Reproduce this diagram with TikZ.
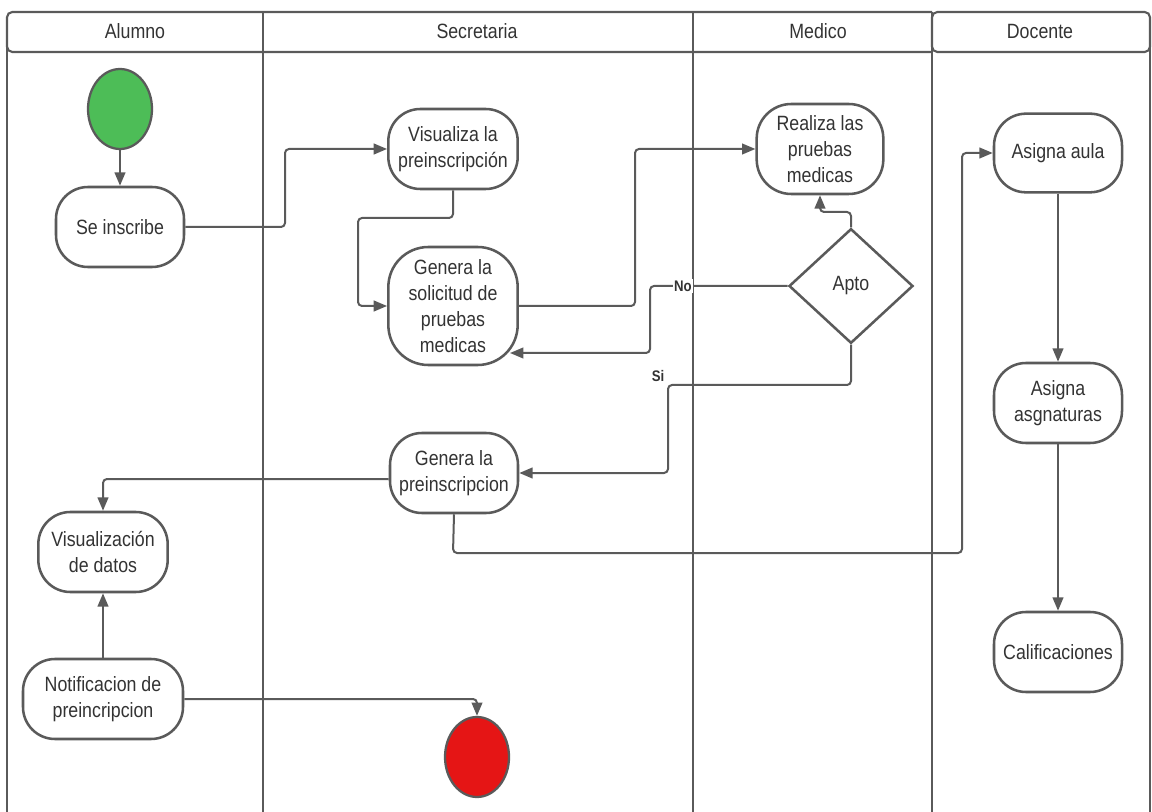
\documentclass[tikz,border=0pt]{standalone}
\usepackage{fontspec}
\setmainfont{Liberation Sans}[FakeStretch=0.86]
\usetikzlibrary{shapes.geometric,arrows.meta}
\definecolor{ln}{HTML}{5A5A5A}
\definecolor{tx}{HTML}{333333}
\definecolor{startg}{HTML}{4DBD57}
\definecolor{endr}{HTML}{E51515}
\tikzset{
  act/.style={draw=ln,line width=1.9pt,fill=white,rounded corners=24pt,align=center,
    inner sep=0pt,minimum width=96pt,minimum height=60pt,text=tx,
    font=\fontsize{15.5pt}{19.5pt}\selectfont},
  blob/.style={draw=ln,line width=1.7pt,ellipse,inner sep=0pt,minimum width=48pt,minimum height=60pt},
  arr/.style={draw=ln,line width=1.5pt,rounded corners=3pt,-{Triangle[length=10pt,width=8pt]}},
  lane/.style={draw=ln,line width=1.6pt},
  hdr/.style={text=tx,font=\fontsize{15.5pt}{17pt}\selectfont},
  lbl/.style={text=tx,font=\bfseries\fontsize{11.5pt}{13pt}\selectfont,fill=white,inner sep=1pt}
}
\begin{document}
\begin{tikzpicture}[x=0.75pt,y=-0.75pt]
\useasboundingbox (0,0) rectangle (1152,812);
% lanes
\draw[lane,rounded corners=4pt] (932,52) -- (7,52) -- (7,12) -- (932,12);
\draw[lane] (7,40) -- (7,812);
\draw[lane] (263,12) -- (263,812);
\draw[lane] (693,12) -- (693,812);
\draw[lane] (932,12) -- (932,812);
\draw[lane] (1150,40) -- (1150,812);
\draw[lane,rounded corners=4pt] (932,12) rectangle (1150,52);
\node[hdr] (hA) at (135,31) {Alumno};
\node[hdr] (hS) at (477,31) {Secretaria};
\node[hdr] (hM) at (818,31) {Medico};
\node[hdr] (hD) at (1040,31) {Docente};
% nodes
\node[blob,fill=startg] (start) at (120,109) {};
\node[act] (ins) at (120,227) {Se inscribe};
\node[act,minimum width=97pt] (vis) at (453,149) {Visualiza la\\preinscripción};
\node[act,minimum width=97pt,minimum height=88.5pt,rounded corners=30pt] (sol) at (453,306) {Genera la\\solicitud de\\pruebas\\medicas};
\node[act,minimum width=95pt,minimum height=67.5pt,rounded corners=26pt] (rea) at (820,149) {Realiza las\\pruebas\\medicas};
\node[draw=ln,line width=1.9pt,diamond,aspect=1.08,minimum width=93pt,minimum height=86pt,inner sep=0pt,text=tx,font=\fontsize{15.5pt}{19.5pt}\selectfont] (apto) at (851,286) {Apto};
\node[act] (gp) at (454,473) {Genera la\\preinscripcion};
\node[act,minimum width=97pt] (vd) at (103,552) {Visualización\\de datos};
\node[act,minimum width=120pt] (noti) at (103,699) {Notificacion de\\preincripcion};
\node[blob,fill=endr] (end) at (477,757) {};
\node[act,minimum height=59pt] (aula) at (1058,153) {Asigna aula};
\node[act] (asg) at (1058,403) {Asigna\\asgnaturas};
\node[act] (cal) at (1058,652) {Calificaciones};
% connectors
\draw[arr] (start.south) -- (ins.north);
\draw[arr] (ins.east) -- (285,227) -- (285,149) -- (vis.west);
\draw[arr] (vis.south) -- (453,218) -- (358,218) -- (358,306) -- (sol.west);
\draw[arr] (sol.east) -- (635,306) -- (635,149) -- (rea.west);
\draw[arr] (apto.north) -- (851,212) -- (820,212) -- (rea.south);
\coordinate (noend) at (510,353);
\draw[arr] (apto.west) -- (650,286) -- (650,353) -- (noend);
\node[lbl] (lno) at (683,286) {No};
\draw[arr] (apto.south) -- (851,385) -- (668,385) -- (668,473) -- (gp.east);
\node[text=tx,font=\bfseries\fontsize{11.5pt}{13pt}\selectfont] (lsi) at (658,376) {Si};
\draw[arr] ([yshift=-4.5pt]gp.west) -| (vd.north);
\draw[arr] (gp.south) -- (453,553) -- (962,553) -- (962,153) -- (aula.west);
\draw[arr] (noti.north) -- (vd.south);
\draw[arr] (noti.east) -| (end.north);
\draw[arr] (aula.south) -- (asg.north);
\draw[arr] (asg.south) -- (cal.north);
\end{tikzpicture}
\end{document}
